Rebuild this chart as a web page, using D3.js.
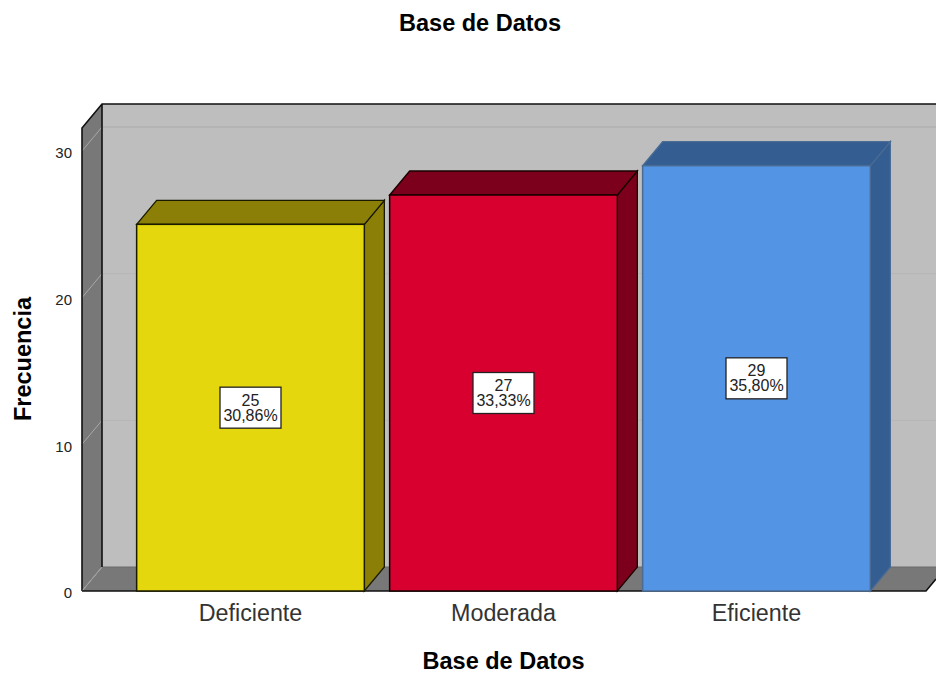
<!DOCTYPE html>
<html lang="es">
<head>
<meta charset="utf-8">
<style>
  html, body { margin: 0; padding: 0; background: #fff; overflow: hidden; }
  text { font-family: "Liberation Sans", Arial, sans-serif; fill: #000; }
</style>
</head>
<body>
<div id="chart"></div>
<script src="https://d3js.org/d3.v7.min.js"></script>
<script>
// data
var categories = ["Deficiente", "Moderada", "Eficiente"];
var counts = [25, 27, 29];
var percents = ["30,86%", "33,33%", "35,80%"];
var yTicks = [0, 10, 20, 30];

var frontColors = ["#e4d70e", "#d7002f", "#5394e4"];
var darkColors = ["#8b7f07", "#7c001b", "#345d91"];
var lineColors = ["#1a1a00", "#1a0000", "#4a6c94"];

var width = 936, height = 673;
var floorY = 591, dx = 20, dy = 24;

var svg = d3.select("#chart").append("svg")
    .attr("width", width)
    .attr("height", height)
    .style("display", "block");

var y = d3.scaleLinear().domain([0, 30]).range([floorY, 151]);
var x = d3.scaleBand().domain(categories).range([124, 883]).paddingInner(0.1).paddingOuter(0.05);
var topY = y.invert(128); // top of the front plane of the box

function pts(a) { return a.map(function(p) { return p.join(","); }).join(" "); }

// back wall, runs off the right edge
svg.append("rect")
    .attr("x", 82 + dx).attr("y", y(topY) - dy)
    .attr("width", width - 82 - dx).attr("height", floorY - y(topY))
    .attr("fill", "#bebebe");

// floor
svg.append("polygon")
    .attr("points", pts([[82, floorY], [82 + dx, floorY - dy], [width + 10, floorY - dy], [926, floorY]]))
    .attr("fill", "#787878");
svg.append("line")
    .attr("x1", 82 + dx).attr("x2", width).attr("y1", floorY - dy).attr("y2", floorY - dy)
    .attr("stroke", "#6a6a6a").attr("stroke-width", 1);

// left wall
svg.append("polygon")
    .attr("points", pts([[82, floorY], [82, y(topY)], [82 + dx, y(topY) - dy], [82 + dx, floorY - dy]]))
    .attr("fill", "#787878");

// grid lines on the walls
svg.selectAll(".grid").data(yTicks.slice(1)).enter().append("line")
    .attr("class", "grid")
    .attr("x1", 82 + dx).attr("x2", width)
    .attr("y1", function(d) { return y(d) - dy; })
    .attr("y2", function(d) { return y(d) - dy; })
    .attr("stroke", function(d) { return d == 30 ? "#b4b4b4" : "#b6b6b6"; })
    .attr("stroke-width", function(d) { return d == 30 ? 2 : 1; });
svg.selectAll(".gridSide").data(yTicks).enter().append("line")
    .attr("class", "gridSide")
    .attr("x1", 82).attr("x2", 82 + dx)
    .attr("y1", function(d) { return y(d); })
    .attr("y2", function(d) { return y(d) - dy; })
    .attr("stroke", "#a8a8a8").attr("stroke-width", 1);

// box outline
svg.append("path")
    .attr("d", "M82," + floorY + "V" + y(topY) + "L" + (82 + dx) + "," + (y(topY) - dy) + "H" + width
      + "M" + (82 + dx) + "," + (y(topY) - dy) + "V" + (floorY - dy))
    .attr("fill", "none").attr("stroke", "#111").attr("stroke-width", 1.6);
svg.append("path")
    .attr("d", "M82," + floorY + "L" + (82 + dx) + "," + (floorY - dy))
    .attr("fill", "none").attr("stroke", "#a0a0a0").attr("stroke-width", 1);
svg.append("path")
    .attr("d", "M82," + floorY + "H926L" + width + "," + (floorY - 12))
    .attr("fill", "none").attr("stroke", "#111").attr("stroke-width", 1.6);

// bars
var bars = svg.selectAll(".bar").data(categories).enter().append("g").attr("class", "bar");

bars.append("polygon")
    .attr("points", function(d, i) {
      var l = x(d), r = l + x.bandwidth(), t = y(counts[i]);
      return pts([[r, floorY], [r, t], [r + dx, t - dy], [r + dx, floorY - dy]]);
    })
    .attr("fill", function(d, i) { return darkColors[i]; })
    .attr("stroke", function(d, i) { return lineColors[i]; })
    .attr("stroke-width", 1.3);

bars.append("polygon")
    .attr("points", function(d, i) {
      var l = x(d), r = l + x.bandwidth(), t = y(counts[i]);
      return pts([[l, t], [l + dx, t - dy], [r + dx, t - dy], [r, t]]);
    })
    .attr("fill", function(d, i) { return darkColors[i]; })
    .attr("stroke", function(d, i) { return lineColors[i]; })
    .attr("stroke-width", 1.3);

bars.append("rect")
    .attr("x", function(d) { return x(d); })
    .attr("y", function(d, i) { return y(counts[i]); })
    .attr("width", x.bandwidth())
    .attr("height", function(d, i) { return floorY - y(counts[i]); })
    .attr("fill", function(d, i) { return frontColors[i]; })
    .attr("stroke", function(d, i) { return lineColors[i]; })
    .attr("stroke-width", 1.5);

// value boxes, two tight lines in one text
var labels = bars.append("g")
    .attr("transform", function(d, i) {
      return "translate(" + (x(d) + x.bandwidth() / 2) + "," + ((y(counts[i]) + floorY) / 2) + ")";
    });
labels.append("rect")
    .attr("x", -30.5).attr("y", -20.5)
    .attr("width", 61).attr("height", 41)
    .attr("fill", "#fff").attr("stroke", "#222").attr("stroke-width", 1.3);
var labelText = labels.append("text")
    .attr("text-anchor", "middle")
    .attr("y", -2)
    .style("font-size", "16px")
    .style("fill", "#222");
labelText.append("tspan")
    .attr("x", 0)
    .text(function(d, i) { return counts[i]; });
labelText.append("tspan")
    .attr("x", 0).attr("dy", 15)
    .text(function(d, i) { return percents[i]; });

// axes
var yAxis = svg.append("g")
    .attr("transform", "translate(75,2)")
    .call(d3.axisLeft(y).tickValues(yTicks).tickSize(0).tickPadding(3));
yAxis.select(".domain").remove();
yAxis.selectAll("text").style("font-size", "15px").style("fill", "#222");

var xAxis = svg.append("g")
    .attr("transform", "translate(0," + floorY + ")")
    .call(d3.axisBottom(x).tickSize(0).tickPadding(13));
xAxis.select(".domain").remove();
xAxis.selectAll("text").style("font-size", "23.3px").style("fill", "#333");

// titles
svg.append("text")
    .attr("x", 480).attr("y", 31)
    .attr("text-anchor", "middle")
    .style("font-size", "23.5px").style("font-weight", "bold")
    .text("Base de Datos");
svg.append("text")
    .attr("x", 503.5).attr("y", 669)
    .attr("text-anchor", "middle")
    .style("font-size", "23.5px").style("font-weight", "bold")
    .text("Base de Datos");
svg.append("text")
    .attr("transform", "translate(31,359) rotate(-90)")
    .attr("text-anchor", "middle")
    .style("font-size", "23.5px").style("font-weight", "bold")
    .text("Frecuencia");
</script>
</body>
</html>
